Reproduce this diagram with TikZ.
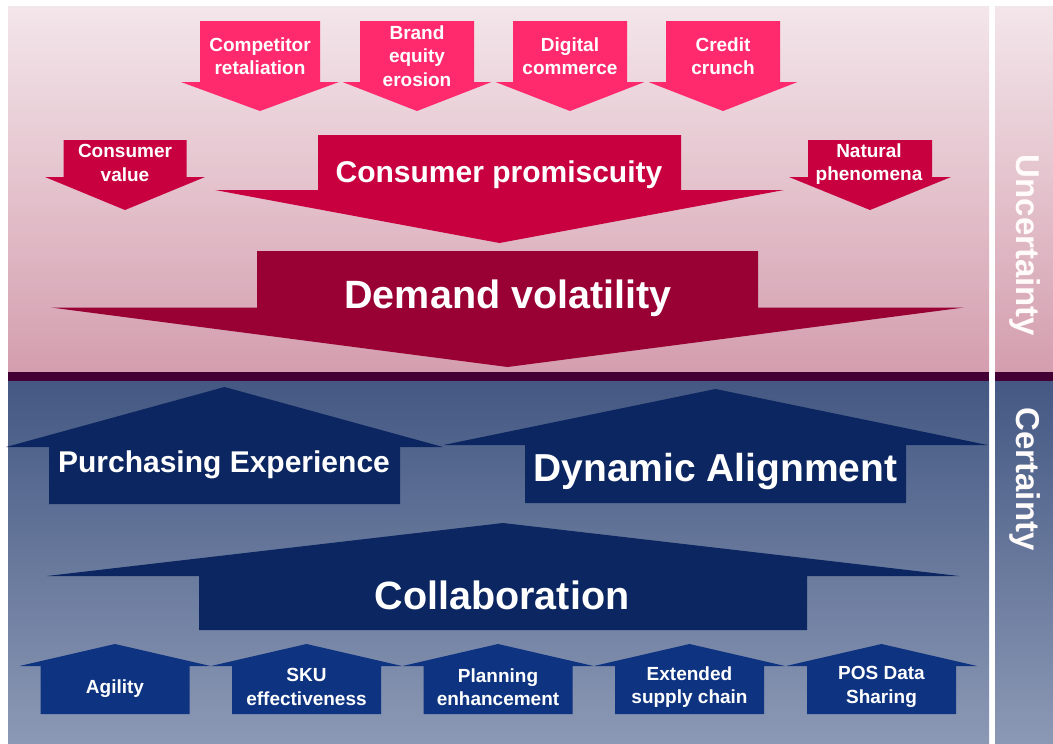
\documentclass[tikz,border=0pt]{standalone}
\usepackage{fontspec}
\setmainfont{Liberation Sans}

\definecolor{pinkTop}{HTML}{F3E6EA}
\definecolor{pinkBot}{HTML}{D49EAF}
\definecolor{blueTop}{HTML}{445883}
\definecolor{blueBot}{HTML}{8C99B5}
\definecolor{bandCol}{HTML}{420035}
\definecolor{hotPink}{HTML}{FF2A6D}
\definecolor{crimson}{HTML}{C80040}
\definecolor{wine}{HTML}{990033}
\definecolor{navy}{HTML}{0B2660}
\definecolor{royal}{HTML}{0E3380}

% block arrow: centre x, half body width, half head width,
% body end y, shoulder y, tip y, fill colour
\newcommand\blockarrow[7]{%
  \fill[#7] (#1-#2,#4) -- (#1+#2,#4) -- (#1+#2,#5) -- (#1+#3,#5)
    -- (#1,#6) -- (#1-#3,#5) -- (#1-#2,#5) -- cycle;}

\tikzset{
  lbl/.style={text=white, align=center, inner sep=0pt,
    font=\bfseries\fontsize{19}{23.5}\selectfont},
  midlbl/.style={text=white, align=center, inner sep=0pt,
    font=\bfseries\fontsize{30}{34}\selectfont},
  biglbl/.style={text=white, align=center, inner sep=0pt,
    font=\bfseries\fontsize{39.5}{45}\selectfont},
  sidelbl/.style={text=white!94!pink, inner sep=0pt, rotate=-90,
    font=\bfseries\fontsize{33}{38}\selectfont},
}

\begin{document}
\begin{tikzpicture}[x=1pt,y=-1pt]
\useasboundingbox (0,0) rectangle (1053,744);

% panels
\fill[top color=pinkTop, bottom color=pinkBot] (8,6) rectangle (989,372);
\fill[top color=pinkTop, bottom color=pinkBot] (995,6) rectangle (1053,372);
\fill[top color=blueTop, bottom color=blueBot] (8,381) rectangle (989,744);
\fill[top color=blueTop, bottom color=blueBot] (995,381) rectangle (1053,744);
\fill[bandCol] (8,372) rectangle (989,381);
\fill[bandCol] (995,372) rectangle (1053,381);

% drivers of uncertainty
\blockarrow{260}{60}{79}{21}{82}{111}{hotPink}
\blockarrow{417}{57}{74.5}{21}{82}{111}{hotPink}
\blockarrow{570}{57}{74.5}{21}{82}{111}{hotPink}
\blockarrow{723}{57}{74.5}{21}{82}{111}{hotPink}
\blockarrow{125}{61.5}{80}{140}{177}{210}{crimson}
\blockarrow{870}{62}{81}{140}{177}{210}{crimson}
\blockarrow{499.5}{181.5}{284.5}{135}{190}{243}{crimson}
\blockarrow{507.5}{250.5}{456.5}{251}{307.5}{367}{wine}

\node[lbl] (comp) at (260,56) {Competitor\\retaliation};
\node[lbl] (brand) at (417,56) {Brand\\equity\\erosion};
\node[lbl] (digi) at (570,56) {Digital\\commerce};
\node[lbl] (cred) at (723,56) {Credit\\crunch};
\node[lbl] (cval) at (125,163) {Consumer\\value};
\node[lbl] (nat) at (869,164) {Natural\\phenomena};
\node[midlbl] (prom) at (499,175) {Consumer promiscuity};
\node[biglbl] (dem) at (508,298) {Demand volatility};

% foundations of certainty
\blockarrow{224.5}{175.5}{218.5}{504}{447}{387}{navy}
\blockarrow{715.5}{190.5}{272}{503}{445}{389}{navy}
\blockarrow{503}{304}{456}{630}{576}{523}{navy}
\blockarrow{115}{74.5}{95.5}{714}{666}{644}{royal}
\blockarrow{306.5}{74.5}{95.5}{714}{666}{644}{royal}
\blockarrow{498}{74.5}{95.5}{714}{666}{644}{royal}
\blockarrow{689.5}{74.5}{95.5}{714}{666}{644}{royal}
\blockarrow{881.5}{74.5}{95.5}{714}{666}{644}{royal}

\node[midlbl] (purch) at (224,464.5) {Purchasing Experience};
\node[biglbl, font=\bfseries\fontsize{39}{44}\selectfont] (dyn) at (715.5,471.5) {Dynamic Alignment};
\node[biglbl] (collab) at (502,595.5) {Collaboration};
\node[lbl] (agil) at (115,689) {Agility};
\node[lbl] (sku) at (306.5,687) {SKU\\effectiveness};
\node[lbl] (plan) at (498,687) {Planning\\enhancement};
\node[lbl] (ext) at (689.5,687) {Extended\\supply chain};
\node[lbl] (pos) at (881.5,687) {POS Data\\Sharing};

% side labels
\node[sidelbl] (unc) at (1025,245.5) {Uncertainty};
\node[sidelbl] (cert) at (1025,479) {Certainty};
\end{tikzpicture}
\end{document}
